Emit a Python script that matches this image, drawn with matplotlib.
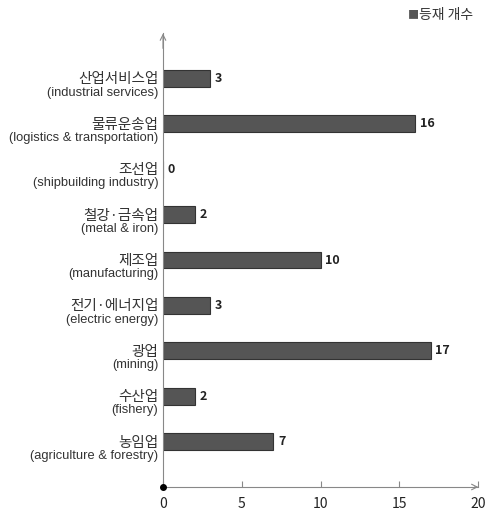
import matplotlib
matplotlib.use("Agg")
import matplotlib.pyplot as plt

plt.rcParams['font.family'] = ['Noto Sans CJK KR', 'DejaVu Sans']

kor = ["농임업", "수산업", "광업", "전기·에너지업", "제조업", "철강·금속업", "조선업", "물류운송업", "산업서비스업"]
eng = ["(agriculture & forestry)", "(fishery)", "(mining)", "(electric energy)", "(manufacturing)",
       "(metal & iron)", "(shipbuilding industry)", "(logistics & transportation)", "(industrial services)"]
values = [7, 2, 17, 3, 10, 2, 0, 16, 3]
xticks = [0, 5, 10, 15, 20]
legend_label = "등재 개수"

W, H = 487, 512
fig = plt.figure(figsize=(W/100, H/100), dpi=100)
ax = fig.add_axes([163/W, 1-487/H, (478-163)/W, (487-33)/H])
ypos = list(range(len(values)))
bar_color = '#555555'
ax.barh(ypos, values, height=0.37, color=bar_color, edgecolor='#333333', linewidth=0.8)
ax.set_xlim(0, 20)
ax.set_ylim(-1, 9)
for s in ['top', 'right']:
    ax.spines[s].set_visible(False)
for s in ['left', 'bottom']:
    ax.spines[s].set_color('#888888')
    ax.spines[s].set_linewidth(0.8)
ax.set_yticks([])
ax.set_xticks(xticks)
ax.set_xticklabels([str(t) for t in xticks], fontsize=10, color='#222222')
ax.tick_params(axis='x', direction='in', length=4, color='#888888', pad=7)

# arrows
ax.annotate('', xy=(20.2, -1), xytext=(19.6, -1), xycoords='data',
            arrowprops=dict(arrowstyle='->', color='#888888', lw=0.8), annotation_clip=False)
ax.annotate('', xy=(0, 9.05), xytext=(0, 8.6), xycoords='data',
            arrowprops=dict(arrowstyle='->', color='#888888', lw=0.8), annotation_clip=False)
ax.plot([0], [-1], 'o', color='black', markersize=4, clip_on=False, zorder=5)

for y, v in zip(ypos, values):
    ax.text(v + 0.3, y, str(v), va='center', ha='left', fontsize=9, fontweight='bold', color='#222222')

for y, k, e in zip(ypos, kor, eng):
    ax.text(-0.3, y - 0.02, k, ha='right', va='center', fontsize=10.5, color='#333333')
    ax.text(-0.3, y - 0.18, e, ha='right', va='top', fontsize=9.3, color='#333333',
            family=['Liberation Sans'])

fig.text(408/W, 1-15/H, '■', ha='left', va='center', fontsize=8, color=bar_color)
fig.text(419/W, 1-15/H, legend_label, ha='left', va='center', fontsize=10, color='#333333')

fig.savefig('out.png', dpi=100)
